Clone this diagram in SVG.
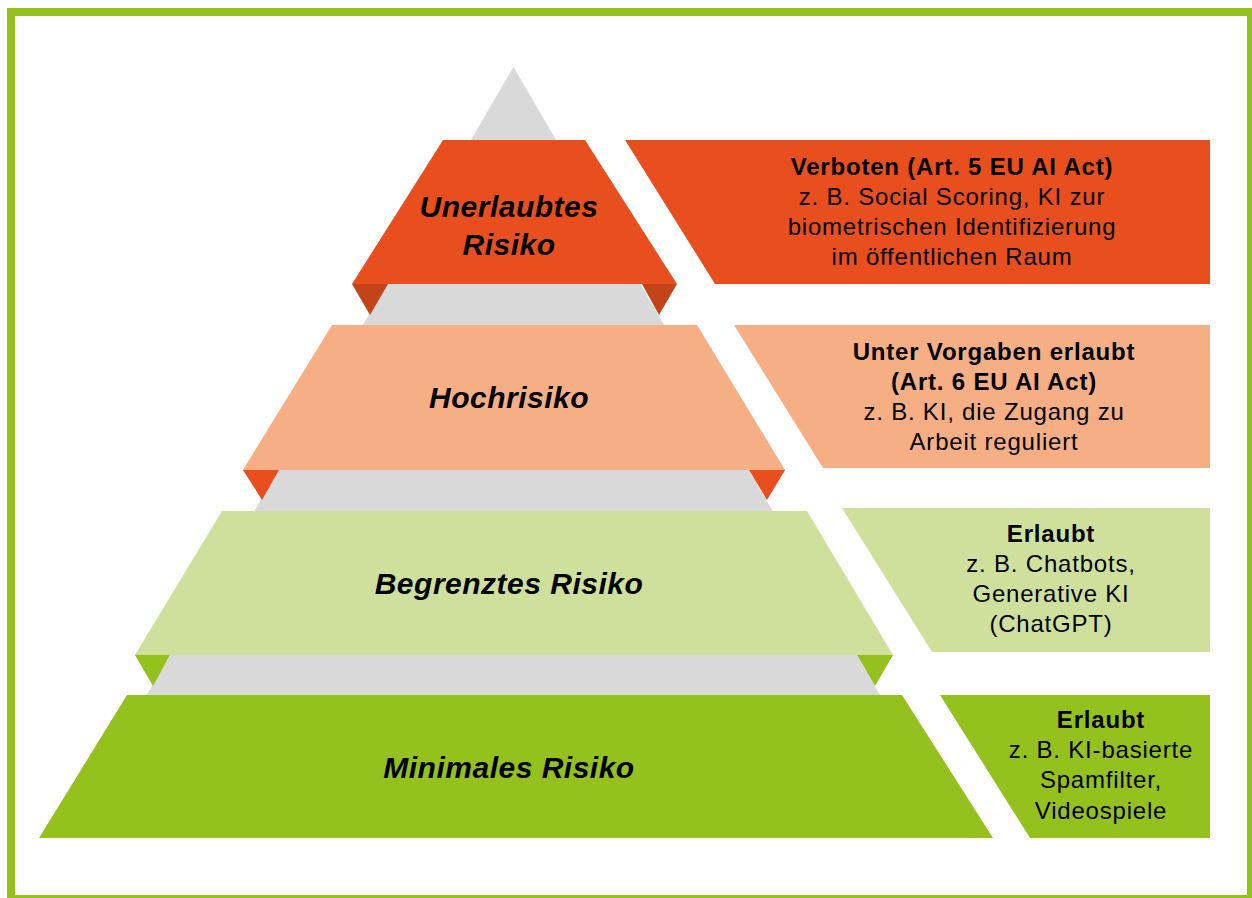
<svg xmlns="http://www.w3.org/2000/svg" width="1252" height="898" viewBox="0 0 1252 898">
  <style>
    .frame { fill: #FFFFFF; stroke: #95C11F; stroke-width: 8; }
    .gray { fill: #D9D9D9; }
    .c1 { fill: #E94F1E; }
    .c1d { fill: #C4441A; }
    .c2 { fill: #F6AE84; }
    .c3 { fill: #CFE09D; }
    .c4 { fill: #95C11F; }
    .title { font-family: "Liberation Sans", Arial, sans-serif; font-weight: bold; font-style: italic; font-size: 30px; letter-spacing: 0.5px; fill: #000000; text-anchor: middle; }
    .desc { font-family: "Liberation Sans", Arial, sans-serif; font-size: 24px; letter-spacing: 0.8px; fill: #000000; text-anchor: middle; }
    .desc .b { font-weight: bold; letter-spacing: 0.8px; }
  </style>
  <rect class="frame" x="11" y="12" width="1240" height="887"/>

  <g id="pyramid-background">
    <polygon class="gray" points="513.5,67 883,700 144,700"/>
  </g>

  <g id="connectors"></g>

  <g id="level-unerlaubt">
    <polygon class="c1d" points="352,284 388,284 370,315"/>
    <polygon class="c1d" points="642,284 677,284 659,315"/>
    <polygon class="c1" points="443,140 585,140 677,284 352,284"/>
    <text class="title" x="509" y="217">Unerlaubtes</text>
    <text class="title" x="509" y="255">Risiko</text>
  </g>
  <g id="desc-unerlaubt">
    <polygon class="c1" points="625,140 1210,140 1210,284 715,284"/>
    <text class="desc" x="952" y="175"><tspan class="b">Verboten (Art. 5 EU AI Act)</tspan></text>
    <text class="desc" x="952" y="205">z. B. Social Scoring, KI zur</text>
    <text class="desc" x="952" y="235">biometrischen Identifizierung</text>
    <text class="desc" x="952" y="265">im öffentlichen Raum</text>
  </g>

  <g id="level-hochrisiko">
    <polygon class="c1" points="243,470 279,470 262,500"/>
    <polygon class="c1" points="749,470 785,470 767,500"/>
    <polygon class="c2" points="332,325 697,325 785,470 243,470"/>
    <text class="title" x="509" y="408">Hochrisiko</text>
  </g>
  <g id="desc-hochrisiko">
    <polygon class="c2" points="734,325 1210,325 1210,468 823,468"/>
    <text class="desc" x="994" y="360"><tspan class="b">Unter Vorgaben erlaubt</tspan></text>
    <text class="desc" x="994" y="390"><tspan class="b">(Art. 6 EU AI Act)</tspan></text>
    <text class="desc" x="994" y="420">z. B. KI, die Zugang zu</text>
    <text class="desc" x="994" y="450">Arbeit reguliert</text>
  </g>

  <g id="level-begrenzt">
    <polygon class="c4" points="135,655 170,655 153,686"/>
    <polygon class="c4" points="857,655 893,655 875,686"/>
    <polygon class="c3" points="222,511 807,511 893,655 135,655"/>
    <text class="title" x="509" y="594">Begrenztes Risiko</text>
  </g>
  <g id="desc-begrenzt">
    <polygon class="c3" points="842,508 1210,508 1210,652 932,652"/>
    <text class="desc" x="1051" y="542"><tspan class="b">Erlaubt</tspan></text>
    <text class="desc" x="1051" y="572">z. B. Chatbots,</text>
    <text class="desc" x="1051" y="602">Generative KI</text>
    <text class="desc" x="1051" y="632">(ChatGPT)</text>
  </g>

  <g id="level-minimal">
    <polygon class="c4" points="127,695 902,695 993,838 39,838"/>
    <text class="title" x="509" y="778">Minimales Risiko</text>
  </g>
  <g id="desc-minimal">
    <polygon class="c4" points="940,695 1210,695 1210,838 1030,838"/>
    <text class="desc" x="1101" y="728"><tspan class="b">Erlaubt</tspan></text>
    <text class="desc" x="1101" y="758">z. B. KI-basierte</text>
    <text class="desc" x="1101" y="788">Spamfilter,</text>
    <text class="desc" x="1101" y="819">Videospiele</text>
  </g>
</svg>
